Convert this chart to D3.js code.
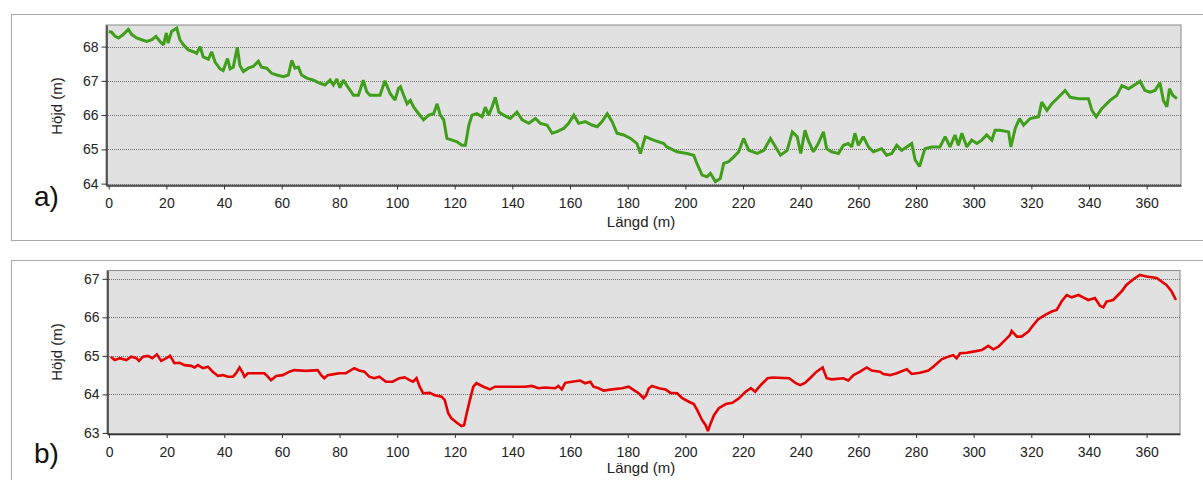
<!DOCTYPE html>
<html>
<head>
<meta charset="utf-8">
<script src="https://cdn.jsdelivr.net/npm/d3@7"></script>
<style>
  html, body { margin: 0; padding: 0; background: #fff; }
  svg { display: block; font-family: "Liberation Sans", Arial, sans-serif; }
</style>
</head>
<body>
<svg id="chart" width="1203" height="480"></svg>
<script>
// ---- Data ----
const distA = [0,1,2.2,3.4,5,6.8,8,9.7,11.4,13.2,15,16.4,17.8,19,20,20.6,21.8,23.6,24.7,25.9,27.6,29.4,30.5,31.7,32.8,34.6,35.7,36.9,38.6,39.7,41.2,42.1,43.2,44.6,45.5,46.7,48.4,50.1,51.9,53,54.8,56.5,58.3,60.6,62.3,63.5,64.6,65.8,66.9,68.7,71,73.3,75,76.8,77.9,79.1,80.2,81.4,83.1,84.9,86.6,88.3,89.5,90.6,94.1,95.8,97.6,99.3,100.5,101.2,102.3,103.5,104.6,105.8,107.5,109.2,111,112.7,113.9,115,116.2,117.3,119.1,120.8,122.5,123.7,124.9,126,127.7,129.5,130.6,131.8,132.9,134.1,135.3,137,139.3,141.6,143.4,145.7,148,149.7,152,153.8,155.5,157.8,159.5,161.3,163,165.3,167.6,169.4,171.1,172.9,174.6,176.3,178.6,181,183.2,184.4,186.1,189,192.5,193.6,197.1,200.6,202.9,204,205.8,207.5,208.7,210.4,212.1,213.3,215,216.8,218.5,220.2,222,224.9,227.2,229.5,231.3,233,235.3,237.1,238.8,240,241.5,242.6,244.4,246.1,247.9,249,250.7,253.1,254.8,256.5,257.7,258.8,260,261.7,263.5,265.2,268.1,269.8,271.6,273.3,275,276.8,278.5,279.7,281.2,283.1,285.4,288.3,290.1,291.8,293.5,294.7,295.9,297.6,299.3,301.1,302.8,304.5,306.3,307.4,309.2,312.1,312.9,314.4,315.9,317.3,319.6,322.5,323.6,325.4,327.1,329.4,331.7,333.5,336.4,339.8,341,342.5,344.4,347.3,349.6,351.4,353.7,355.4,357.7,359.4,361.2,362.9,364.6,365.8,367,367.9,369,370.5];
const heightA = [68.44,68.42,68.3,68.25,68.35,68.5,68.35,68.25,68.2,68.15,68.2,68.3,68.15,68.05,68.4,68.1,68.44,68.54,68.2,68.05,67.9,67.85,67.8,68.0,67.7,67.63,67.85,67.55,67.35,67.3,67.65,67.35,67.4,67.98,67.45,67.27,67.37,67.42,67.57,67.4,67.37,67.22,67.17,67.12,67.17,67.6,67.37,67.4,67.17,67.08,67.02,66.93,66.88,67.02,66.88,67.05,66.8,67.02,66.8,66.58,66.58,67.02,66.68,66.58,66.58,67.0,66.63,66.44,66.78,66.83,66.58,66.33,66.43,66.23,66.04,65.86,66.0,66.04,66.33,66.0,65.86,65.32,65.27,65.22,65.12,65.12,65.7,66.0,66.04,65.95,66.23,66.0,66.23,66.52,66.09,66.0,65.9,66.09,65.86,65.76,65.9,65.76,65.71,65.47,65.52,65.61,65.76,66.0,65.76,65.81,65.71,65.66,65.81,66.04,65.81,65.47,65.42,65.32,65.17,64.88,65.37,65.27,65.17,65.07,64.93,64.88,64.83,64.59,64.25,64.2,64.3,64.06,64.15,64.59,64.64,64.78,64.93,65.32,64.97,64.88,64.97,65.32,65.07,64.83,64.97,65.51,65.37,64.88,65.56,65.27,64.93,65.17,65.51,65.02,64.93,64.88,65.12,65.17,65.07,65.47,65.12,65.37,65.07,64.93,65.02,64.83,64.88,65.12,64.97,65.07,65.17,64.69,64.5,65.02,65.07,65.07,65.37,65.07,65.42,65.12,65.47,65.07,65.27,65.17,65.27,65.42,65.27,65.56,65.56,65.51,65.07,65.61,65.9,65.71,65.9,65.95,66.38,66.14,66.33,66.52,66.72,66.52,66.48,66.48,66.14,65.95,66.19,66.43,66.57,66.86,66.77,66.86,66.99,66.72,66.67,66.72,66.94,66.43,66.24,66.77,66.58,66.48];

const distB = [0.6,2,3.7,6,7.7,9.5,10.4,11.8,13.5,15,16.6,18.1,19.9,21.2,22.7,24.5,26.2,28.5,29.7,30.8,32.6,34.3,36,37.8,39.5,41.2,43,44.1,45.3,46.4,47,48.2,49.9,53.9,55.1,56.2,58,60.3,62.6,64.3,68.4,72.4,73.6,74.7,75.9,77.6,79.9,82.2,85.1,86.8,88.6,90.3,92,93.8,96.1,98.4,100.7,102.6,104.3,105.5,106.7,107.8,109,111.3,113,115.4,116.5,117.7,118.8,120.6,122.3,123.2,124.1,125.2,126.4,127.5,129.9,132.2,133.9,137.4,144.4,146.7,149,151.3,154.8,155.9,157.1,158.3,160.6,163.5,165.2,167,168.1,169.9,171.6,174.5,178,180.3,182.1,183.8,185.5,186.4,187.3,188.4,190.8,193.1,194.8,197.1,198.9,201.2,202.9,204.1,205.8,207,207.8,208.7,209.9,211.6,214,216.3,218.6,220.9,222.7,224.2,226.1,228.5,230.2,236,238.3,239.8,241.5,243.2,245.5,247.6,249,250.8,254.8,256.5,258.3,260.6,262.9,264.6,267.5,268.7,271,273.3,276.8,278.5,281.4,284.3,286,288.9,291.2,292.9,294.1,295.3,297.6,299.9,302.8,305.1,306.8,308.6,310.9,312.6,313.2,315,316.6,319,320.7,322.4,324.7,327.1,328.8,330.5,332.3,334,336.4,338,339.8,342.1,343.8,345,346.1,348.4,351.3,353,355.4,357.7,360,363.5,365.2,366.9,368.7,370.2];
const heightB = [64.98,64.89,64.94,64.89,64.98,64.94,64.87,64.98,65.0,64.94,65.04,64.87,64.94,65.0,64.81,64.82,64.76,64.74,64.7,64.76,64.68,64.72,64.59,64.48,64.5,64.46,64.46,64.55,64.7,64.56,64.46,64.55,64.55,64.55,64.46,64.37,64.48,64.5,64.59,64.63,64.61,64.63,64.5,64.42,64.5,64.52,64.55,64.55,64.68,64.62,64.59,64.46,64.42,64.46,64.33,64.33,64.42,64.44,64.37,64.33,64.42,64.2,64.03,64.04,63.98,63.94,63.85,63.51,63.38,63.27,63.18,63.2,63.51,63.85,64.2,64.29,64.2,64.13,64.2,64.2,64.2,64.22,64.16,64.18,64.16,64.22,64.13,64.3,64.33,64.36,64.29,64.33,64.2,64.16,64.1,64.13,64.16,64.2,64.11,64.03,63.9,63.98,64.16,64.22,64.16,64.13,64.04,64.03,63.9,63.81,63.75,63.59,63.33,63.2,63.05,63.24,63.46,63.64,63.75,63.78,63.9,64.07,64.16,64.07,64.24,64.42,64.44,64.42,64.29,64.24,64.3,64.42,64.59,64.7,64.42,64.39,64.42,64.36,64.5,64.59,64.7,64.62,64.59,64.53,64.5,64.55,64.65,64.53,64.56,64.62,64.72,64.91,64.98,65.02,64.94,65.07,65.08,65.11,65.15,65.26,65.17,65.24,65.41,65.54,65.65,65.5,65.5,65.63,65.8,65.95,66.06,66.15,66.19,66.41,66.58,66.52,66.58,66.52,66.45,66.5,66.3,66.26,66.41,66.45,66.67,66.84,66.99,67.1,67.06,67.02,66.93,66.84,66.67,66.45];

const xTicks = [0,20,40,60,80,100,120,140,160,180,200,220,240,260,280,300,320,340,360];
const yTicksA = [64,65,66,67,68];
const yTicksB = [63,64,65,66,67];
const xTitle = "Längd (m)";
const yTitle = "Höjd (m)";
const panelLabels = ["a)", "b)"];

// ---- Drawing ----
const svg = d3.select("#chart");

const panels = [
  { frame: [11.5, 14.5, 1230, 226], plot: { x0: 106, x1: 1181, y0: 25, y1: 185 },
    xDom: [-0.94, 371.9], yDom: [63.96, 68.63], yTicks: yTicksA,
    dist: distA, h: heightA, color: "#3f9f1a", width: 3,
    label: panelLabels[0], labelY: 206, yTitleY: 106, xTitleY: 227, tickLabelY: 208 },
  { frame: [11.5, 260.5, 1230, 300], plot: { x0: 107, x1: 1180, y0: 270.5, y1: 433.5 },
    xDom: [-0.7, 371.6], yDom: [62.985, 67.216], yTicks: yTicksB,
    dist: distB, h: heightB, color: "#e60000", width: 2.6,
    label: panelLabels[1], labelY: 463, yTitleY: 352, xTitleY: 473, tickLabelY: 457 }
];

panels.forEach(p => {
  const g = svg.append("g");
  g.append("rect")
    .attr("x", p.frame[0]).attr("y", p.frame[1])
    .attr("width", p.frame[2]).attr("height", p.frame[3])
    .attr("fill", "#fff").attr("stroke", "#a9a9a9").attr("stroke-width", 1);

  const x = d3.scaleLinear().domain(p.xDom).range([p.plot.x0, p.plot.x1]);
  const y = d3.scaleLinear().domain(p.yDom).range([p.plot.y1, p.plot.y0]);

  g.append("rect")
    .attr("x", p.plot.x0).attr("y", p.plot.y0)
    .attr("width", p.plot.x1 - p.plot.x0).attr("height", p.plot.y1 - p.plot.y0)
    .attr("fill", "#e1e1e1").attr("stroke", "#8a8a8a").attr("stroke-width", 1);

  g.append("g").selectAll("line").data(p.yTicks).join("line")
    .attr("x1", p.plot.x0).attr("x2", p.plot.x1)
    .attr("y1", d => Math.round(y(d)) + 0.5).attr("y2", d => Math.round(y(d)) + 0.5)
    .attr("stroke", "#6e6e6e").attr("stroke-width", 1).attr("stroke-dasharray", "1,1");

  const line = d3.line().x((d, i) => x(p.dist[i])).y(d => y(d));
  g.append("path").datum(p.h)
    .attr("d", line).attr("fill", "none")
    .attr("stroke", p.color).attr("stroke-width", p.width)
    .attr("stroke-linejoin", "miter").attr("stroke-miterlimit", 2);

  const yAxis = d3.axisLeft(y).tickValues(p.yTicks).tickSize(5).tickSizeOuter(0).tickFormat(d3.format("d"));
  const ya = g.append("g").attr("transform", `translate(${p.plot.x0 + 0.5},0)`).call(yAxis);
  ya.select(".domain").attr("stroke", "#333").attr("stroke-width", 1.5);
  ya.selectAll(".tick line").attr("stroke", "#333");
  ya.selectAll(".tick text").attr("font-size", 14).attr("fill", "#222").attr("x", -8)
    .attr("font-family", '"Liberation Sans", Arial, sans-serif');

  const xAxis = d3.axisBottom(x).tickValues(xTicks).tickSize(4).tickSizeOuter(0).tickFormat(d3.format("d"));
  const xa = g.append("g").attr("transform", `translate(0,${p.plot.y1 + 0.5})`).call(xAxis);
  xa.select(".domain").attr("stroke", "#333").attr("stroke-width", 1.5);
  xa.selectAll(".tick line").attr("stroke", "#333");
  xa.selectAll(".tick text").attr("font-size", 14).attr("fill", "#222")
    .attr("font-family", '"Liberation Sans", Arial, sans-serif')
    .attr("dy", null).attr("y", p.tickLabelY - p.plot.y1 - 0.5);

  g.append("text").text(xTitle)
    .attr("x", 641).attr("y", p.xTitleY).attr("text-anchor", "middle")
    .attr("font-size", 15).attr("fill", "#222");
  g.append("text").text(yTitle)
    .attr("transform", `translate(62,${p.yTitleY}) rotate(-90)`)
    .attr("text-anchor", "middle").attr("font-size", 15).attr("fill", "#222");
  g.append("text").text(p.label)
    .attr("x", 34).attr("y", p.labelY)
    .attr("font-size", 28).attr("fill", "#111");
});
</script>
</body>
</html>
